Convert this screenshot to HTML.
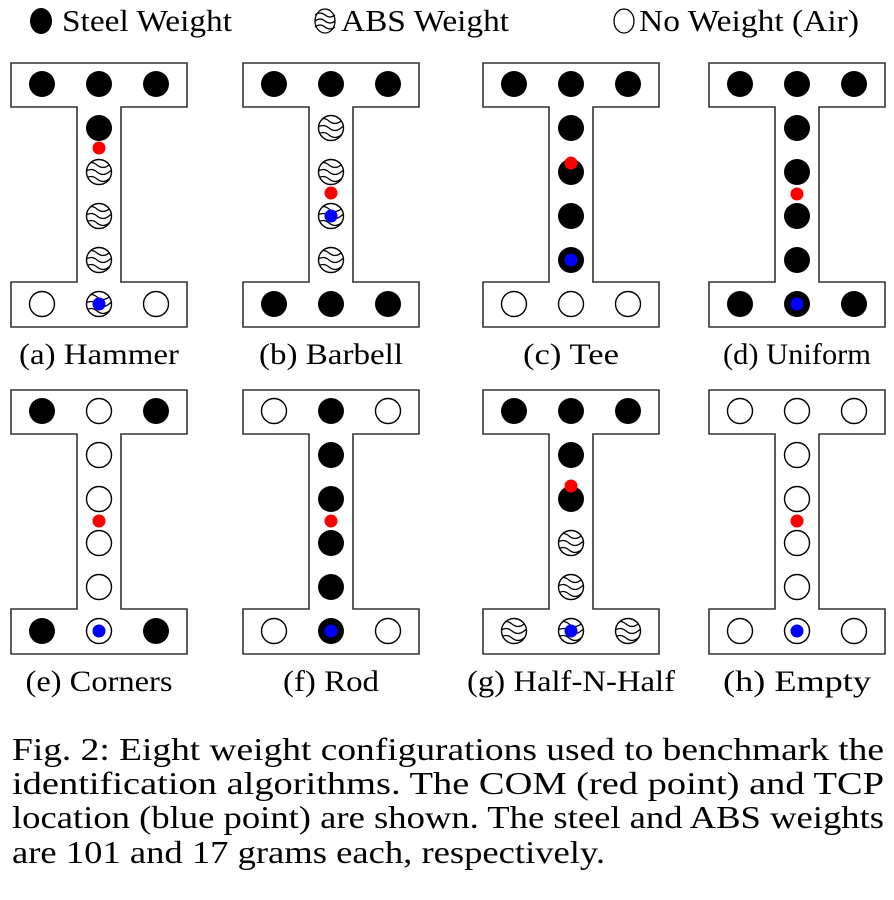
<!DOCTYPE html>
<html><head><meta charset="utf-8"><style>
html,body{margin:0;padding:0;background:#fff;width:894px;height:900px;overflow:hidden}
svg{position:absolute;left:0;top:0}
svg text{font-family:"Liberation Serif","Times New Roman",serif}
</style></head><body>
<svg id="fig" width="894" height="900">
<defs><clipPath id="cc"><circle cx="0" cy="0" r="12.5"/></clipPath></defs>
<g id="legend" style="font-size:31px">
 <ellipse cx="41" cy="21" rx="11" ry="13" fill="#000"/>
 <text x="62" y="31" textLength="170" lengthAdjust="spacingAndGlyphs">Steel Weight</text>
 <g transform="translate(325,21)">
  <ellipse cx="0" cy="0" rx="10" ry="12" fill="#fff" stroke="#000" stroke-width="1.3"/>
  <path d="M-10,-6 q5,-4 10,0 t10,0 M-10,0 q5,-4 10,0 t10,0 M-10,6 q5,-4 10,0 t10,0" fill="none" stroke="#000" stroke-width="1.3"/>
 </g>
 <text x="341" y="31" textLength="168" lengthAdjust="spacingAndGlyphs">ABS Weight</text>
 <ellipse cx="624" cy="21" rx="10" ry="12" fill="#fff" stroke="#000" stroke-width="1.3"/>
 <text x="639" y="31" textLength="220" lengthAdjust="spacingAndGlyphs">No Weight (Air)</text>
</g>
<g id="caption" style="font-size:32px">
 <text x="12" y="760" textLength="872" lengthAdjust="spacingAndGlyphs">Fig. 2: Eight weight configurations used to benchmark the</text>
 <text x="12" y="794" textLength="872" lengthAdjust="spacingAndGlyphs">identification algorithms. The COM (red point) and TCP</text>
 <text x="12" y="828" textLength="872" lengthAdjust="spacingAndGlyphs">location (blue point) are shown. The steel and ABS weights</text>
 <text x="12" y="863" textLength="593" lengthAdjust="spacingAndGlyphs">are 101 and 17 grams each, respectively.</text>
</g>
</svg>
<script>
// layouts: top flange (3), web (4), bottom flange (3); S steel, A abs, O air
const names=["(a) Hammer","(b) Barbell","(c) Tee","(d) Uniform","(e) Corners","(f) Rod","(g) Half-N-Half","(h) Empty"];
const tops=["SSS","SSS","SSS","SSS","SOS","OSO","SSS","OOO"];
const webs=["SAAA","AAAA","SSSS","SSSS","OOOO","SSSS","SSAA","OOOO"];
const bots=["OAO","SSS","OOO","SSS","SOS","OSO","AAA","OOO"];
const comY=[85,130,100,131,131,131,96,131];
const tcpRow=[5,3,4,5,5,5,5,5];
const lefts=[11,243,483,709];
const capW=[160,144,96,148,147,96,208,148];
const NS="http://www.w3.org/2000/svg";
const svg=document.getElementById('fig');
function mk(t,a,p){const e=document.createElementNS(NS,t);for(const k in a)e.setAttribute(k,a[k]);(p||svg).appendChild(e);return e;}
function weight(g,kind,cx,cy){
  const w=mk('g',{transform:`translate(${cx},${cy})`},g);
  
  
  if(kind==='S'){mk('circle',{r:13,fill:'#000'},w);}
  else{
    mk('circle',{r:12.5,fill:'#fff',stroke:'#000','stroke-width':1.4},w);
    if(kind==='A'){
      const h=mk('g',{'clip-path':'url(#cc)'},w);
      mk('path',{d:'M-14,-7 q6,-5 12,0 t12,0 t12,0 M-14,0 q6,-5 12,0 t12,0 t12,0 M-14,7 q6,-5 12,0 t12,0 t12,0',fill:'none',stroke:'#000','stroke-width':1.3},h);
    }
  }
}
for(let i=0;i<8;i++){
  const x0=lefts[i%4], y0=i<4?63:390;
  const g=mk('g',{});
  
  
  const d=`M${x0},${y0} H${x0+176} V${y0+44} H${x0+110} V${y0+219} H${x0+176} V${y0+264} H${x0} V${y0+219} H${x0+66} V${y0+44} H${x0} Z`;
  const sh=mk('path',{d:d,fill:'#fff',stroke:'#333','stroke-width':1.6},g);
  
  
  const xs=[x0+31,x0+88,x0+145];
  const rows=[21,65,109,153,197,241];
  for(let k=0;k<3;k++)weight(g,tops[i][k],xs[k],y0+rows[0]);
  for(let k=0;k<4;k++)weight(g,webs[i][k],xs[1],y0+rows[k+1]);
  for(let k=0;k<3;k++)weight(g,bots[i][k],xs[k],y0+rows[5]);
  const b=mk('circle',{cx:xs[1],cy:y0+rows[tcpRow[i]],r:6.5,fill:'#0000ff'},g);
  
  
  const r=mk('circle',{cx:xs[1],cy:y0+comY[i],r:6.5,fill:'#ff0000'},g);
  
  
  const t=mk('text',{x:xs[1]-capW[i]/2,y:y0+301,textLength:capW[i],lengthAdjust:'spacingAndGlyphs',style:'font-size:30px'},g);
  t.textContent=names[i];
  
  
}
</script>
</body></html>
